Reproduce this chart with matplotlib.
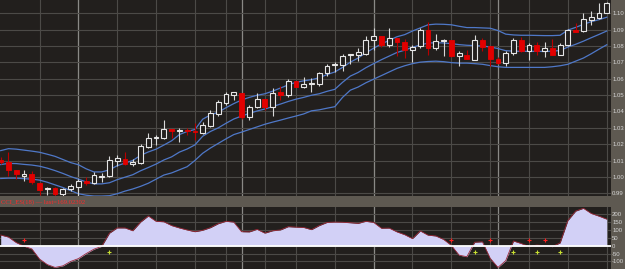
import matplotlib
matplotlib.use("Agg")
import matplotlib.pyplot as plt
from matplotlib.patches import Rectangle

# daily candles
opens = [1.0103, 1.0094, 1.0043, 1.0006, 1.0016, 0.9963, 0.9928, 0.9930, 0.9894, 0.9925,
         0.9942, 0.9974, 0.9963, 1.0002, 1.0006, 1.0096, 1.0111, 1.0080, 1.0086, 1.0185,
         1.0238, 1.0238, 1.0295, 1.0280, 1.0285, 1.0281, 1.0269, 1.0311, 1.0385, 1.0453,
         1.0500, 1.0511, 1.0368, 1.0427, 1.0476, 1.0427, 1.0516, 1.0500, 1.0585, 1.0549,
         1.0570, 1.0568, 1.0632, 1.0683, 1.0686, 1.0745, 1.0743, 1.0753, 1.0838, 1.0859,
         1.0807, 1.0848, 1.0827, 1.0775, 1.0800, 1.0895, 1.0785, 1.0832, 1.0834, 1.0737,
         1.0747, 1.0716, 1.0834, 1.0800, 1.0718, 1.0697, 1.0754, 1.0834, 1.0771, 1.0807,
         1.0771, 1.0789, 1.0747, 1.0807, 1.0895, 1.0891, 1.0960, 1.0971, 1.1000]
highs = [1.0120, 1.0153, 1.0043, 1.0043, 1.0037, 0.9963, 0.9936, 0.9936, 0.9932, 0.9960,
         0.9985, 1.0000, 1.0031, 1.0023, 1.0126, 1.0132, 1.0153, 1.0107, 1.0200, 1.0269,
         1.0259, 1.0347, 1.0295, 1.0301, 1.0297, 1.0328, 1.0336, 1.0406, 1.0469, 1.0516,
         1.0516, 1.0511, 1.0437, 1.0511, 1.0476, 1.0543, 1.0554, 1.0600, 1.0585, 1.0613,
         1.0606, 1.0638, 1.0690, 1.0701, 1.0750, 1.0753, 1.0785, 1.0859, 1.0912, 1.0859,
         1.0908, 1.0848, 1.0842, 1.0807, 1.0912, 1.0943, 1.0870, 1.0842, 1.0838, 1.0770,
         1.0775, 1.0865, 1.0848, 1.0800, 1.0733, 1.0770, 1.0848, 1.0855, 1.0817, 1.0827,
         1.0821, 1.0844, 1.0817, 1.0901, 1.0939, 1.1000, 1.1013, 1.1063, 1.1070]
lows = [1.0080, 1.0006, 0.9989, 0.9974, 0.9957, 0.9890, 0.9888, 0.9873, 0.9884, 0.9915,
        0.9848, 0.9953, 0.9957, 0.9968, 1.0001, 1.0069, 1.0073, 1.0065, 1.0080, 1.0178,
        1.0196, 1.0231, 1.0238, 1.0212, 1.0258, 1.0227, 1.0265, 1.0305, 1.0374, 1.0438,
        1.0469, 1.0353, 1.0347, 1.0421, 1.0410, 1.0370, 1.0469, 1.0490, 1.0549, 1.0545,
        1.0516, 1.0558, 1.0617, 1.0642, 1.0644, 1.0690, 1.0705, 1.0747, 1.0775, 1.0796,
        1.0796, 1.0739, 1.0726, 1.0701, 1.0785, 1.0747, 1.0775, 1.0739, 1.0735, 1.0680,
        1.0722, 1.0712, 1.0770, 1.0680, 1.0690, 1.0676, 1.0747, 1.0764, 1.0716, 1.0747,
        1.0733, 1.0743, 1.0743, 1.0802, 1.0884, 1.0886, 1.0929, 1.0965, 1.0998]
closes = [1.0094, 1.0042, 1.0016, 1.0016, 0.9970, 0.9922, 0.9932, 0.9896, 0.9925, 0.9947,
          0.9974, 0.9963, 1.0010, 1.0008, 1.0105, 1.0115, 1.0080, 1.0094, 1.0191, 1.0238,
          1.0242, 1.0295, 1.0279, 1.0285, 1.0278, 1.0276, 1.0315, 1.0391, 1.0455, 1.0505,
          1.0516, 1.0368, 1.0427, 1.0476, 1.0427, 1.0511, 1.0503, 1.0589, 1.0549, 1.0568,
          1.0573, 1.0632, 1.0680, 1.0688, 1.0737, 1.0748, 1.0760, 1.0834, 1.0859, 1.0807,
          1.0848, 1.0823, 1.0775, 1.0796, 1.0895, 1.0785, 1.0832, 1.0838, 1.0737, 1.0754,
          1.0722, 1.0838, 1.0796, 1.0722, 1.0697, 1.0758, 1.0834, 1.0771, 1.0807, 1.0771,
          1.0789, 1.0747, 1.0807, 1.0895, 1.0886, 1.0965, 1.0979, 1.1002, 1.1059]

band_up = [1.0161, 1.0173, 1.0170, 1.0164, 1.0158, 1.0151, 1.0139, 1.0126, 1.0107, 1.0088,
           1.0075, 1.0050, 1.0031, 1.0031, 1.0044, 1.0069, 1.0085, 1.0101, 1.0132, 1.0153,
           1.0170, 1.0195, 1.0221, 1.0259, 1.0278, 1.0290, 1.0353, 1.0379, 1.0395, 1.0423,
           1.0448, 1.0470, 1.0486, 1.0499, 1.0508, 1.0524, 1.0543, 1.0562, 1.0578, 1.0587,
           1.0594, 1.0606, 1.0625, 1.0641, 1.0669, 1.0701, 1.0726, 1.0758, 1.0786, 1.0812,
           1.0834, 1.0856, 1.0869, 1.0891, 1.0910, 1.0929, 1.0933, 1.0932, 1.0929, 1.0920,
           1.0912, 1.0912, 1.0910, 1.0908, 1.0894, 1.0872, 1.0867, 1.0865, 1.0865, 1.0864,
           1.0863, 1.0863, 1.0865, 1.0897, 1.0913, 1.0932, 1.0948, 1.0960, 1.0975]
band_mid = [1.0076, 1.0083, 1.0082, 1.0077, 1.0073, 1.0066, 1.0054, 1.0039, 1.0022, 1.0003,
            0.9987, 0.9970, 0.9958, 0.9958, 0.9965, 0.9984, 0.9999, 1.0014, 1.0038, 1.0058,
            1.0079, 1.0104, 1.0123, 1.0152, 1.0171, 1.0196, 1.0249, 1.0278, 1.0300, 1.0328,
            1.0354, 1.0372, 1.0388, 1.0403, 1.0415, 1.0430, 1.0445, 1.0461, 1.0475, 1.0486,
            1.0499, 1.0508, 1.0523, 1.0535, 1.0578, 1.0616, 1.0638, 1.0667, 1.0692, 1.0716,
            1.0738, 1.0760, 1.0774, 1.0792, 1.0806, 1.0817, 1.0820, 1.0818, 1.0814, 1.0808,
            1.0804, 1.0802, 1.0799, 1.0794, 1.0784, 1.0771, 1.0768, 1.0767, 1.0767, 1.0767,
            1.0766, 1.0768, 1.0772, 1.0793, 1.0810, 1.0829, 1.0850, 1.0870, 1.0891]
band_lo = [0.9991, 0.9993, 0.9993, 0.9990, 0.9987, 0.9981, 0.9968, 0.9952, 0.9936, 0.9917,
           0.9898, 0.9889, 0.9884, 0.9884, 0.9886, 0.9898, 0.9914, 0.9927, 0.9943, 0.9962,
           0.9987, 1.0012, 1.0025, 1.0044, 1.0063, 1.0101, 1.0145, 1.0177, 1.0205, 1.0233,
           1.0259, 1.0274, 1.0290, 1.0306, 1.0322, 1.0335, 1.0347, 1.0360, 1.0372, 1.0385,
           1.0404, 1.0410, 1.0420, 1.0429, 1.0486, 1.0530, 1.0549, 1.0575, 1.0597, 1.0619,
           1.0641, 1.0663, 1.0679, 1.0692, 1.0701, 1.0705, 1.0707, 1.0704, 1.0698, 1.0695,
           1.0695, 1.0692, 1.0688, 1.0680, 1.0673, 1.0669, 1.0669, 1.0669, 1.0669, 1.0669,
           1.0669, 1.0673, 1.0679, 1.0688, 1.0707, 1.0726, 1.0752, 1.0780, 1.0807]

cci = [68, 55, 20, -3, -20, -85, -120, -138, -128, -100,
       -82, -50, -22, -4, 80, 113, 113, 95, 150, 189,
       155, 152, 128, 113, 100, 89, 98, 115, 140, 155,
       150, 89, 88, 104, 80, 95, 100, 121, 118, 116,
       102, 128, 148, 150, 149, 146, 142, 155, 148, 111,
       112, 88, 70, 45, 94, 67, 62, 40, 2, -60,
       -70, 22, 25, -80, -138, -95, 30, 14, -5, 4,
       0, -6, 18, 160, 220, 238, 205, 188, 169]
cci_last = 169.02302

sig_up_idx = [3, 58, 63, 68, 70]      # red crosses above zero
sig_dn_idx = [14, 61, 66, 69, 72]     # yellow crosses below zero
sig_up_level = 38
sig_dn_level = -42

week_lines = [5, 10, 15, 20, 25, 29, 34, 38, 43, 48, 53, 58, 63, 68, 73, 78]
month_lines = [10, 31, 48, 64]

price_ticks = [0.99, 1.00, 1.01, 1.02, 1.03, 1.04, 1.05, 1.06, 1.07, 1.08, 1.09, 1.10]
cci_ticks = [200, 150, 100, 50, 0, -50, -100]

BG = "#221f1d"
STRIP = "#5e5951"
GRID = "#4c4a47"

W, H = 625, 269
fig = plt.figure(figsize=(W / 100, H / 100), dpi=100)
fig.patch.set_facecolor(STRIP)

ax = fig.add_axes([0, 73 / H, 611 / W, 196 / H])
axc = fig.add_axes([0, 0, 611 / W, 62 / H])

for a in (ax, axc):
    a.set_facecolor(BG)
    for s in a.spines.values():
        s.set_visible(False)
    a.yaxis.tick_right()
    a.tick_params(axis="y", length=0, pad=0.8, labelsize=4.3, labelcolor="#d6d6d6")
    a.tick_params(axis="x", length=0, labelbottom=False)
    a.set_xlim(-0.09, 78.55)
    for i in week_lines:
        a.axvline(i, color=GRID, lw=0.8, zorder=0)
    for i in month_lines:
        a.axvline(i, color="#8a8986", lw=0.9, zorder=0)

# price panel
ax.set_ylim(0.98841, 1.10803)
ax.set_yticks(price_ticks)
ax.set_yticklabels(["%.2f" % v for v in price_ticks], family="Liberation Sans")
ax.grid(axis="y", color=GRID, lw=0.8, zorder=0)

idx = list(range(len(closes)))
for band in (band_up, band_mid, band_lo):
    ax.plot(idx, band, color="#4f78c8", lw=0.9, zorder=2)

bw = 0.62
for i in idx:
    o, h, l, c = opens[i], highs[i], lows[i], closes[i]
    if c >= o:
        ax.vlines(i, l, h, color="#d8d8d8", lw=0.8, zorder=3)
        ax.add_patch(Rectangle((i - bw / 2, o), bw, c - o, facecolor=BG,
                               edgecolor="#e6e6e6", lw=0.8, zorder=4))
    else:
        ax.vlines(i, l, h, color="#b80000", lw=0.8, zorder=3)
        ax.add_patch(Rectangle((i - bw / 2, c), bw, o - c, facecolor="#e20000",
                               edgecolor="#e20000", lw=0.6, zorder=4))

# CCI panel
axc.set_ylim(-148, 246)
axc.set_yticks(cci_ticks)
axc.set_yticklabels([str(v) for v in cci_ticks], family="Liberation Sans")
axc.grid(axis="y", color=GRID, lw=0.8, zorder=0)
axc.fill_between(idx, cci, 0, color="#d2d0f6", lw=0, zorder=2)
axc.plot(idx, cci, color="#9a2838", lw=0.6, zorder=3)
axc.axhline(0, color="white", lw=1.3, zorder=3)
axc.plot(sig_up_idx, [sig_up_level] * len(sig_up_idx), "+", color="#ff2020",
         ms=3, mew=0.8, zorder=5)
axc.plot(sig_dn_idx, [sig_dn_level] * len(sig_dn_idx), "+", color="#c8e030",
         ms=3, mew=0.8, zorder=5)

fig.text(0.001, (H - 202.5) / H, "CCI_ES(18) \u2014 last=%.5f" % cci_last,
         color="#ff2a2a", fontsize=4.8, family="Liberation Serif", va="center")

fig.savefig("out.png", dpi=100, facecolor=fig.get_facecolor())
